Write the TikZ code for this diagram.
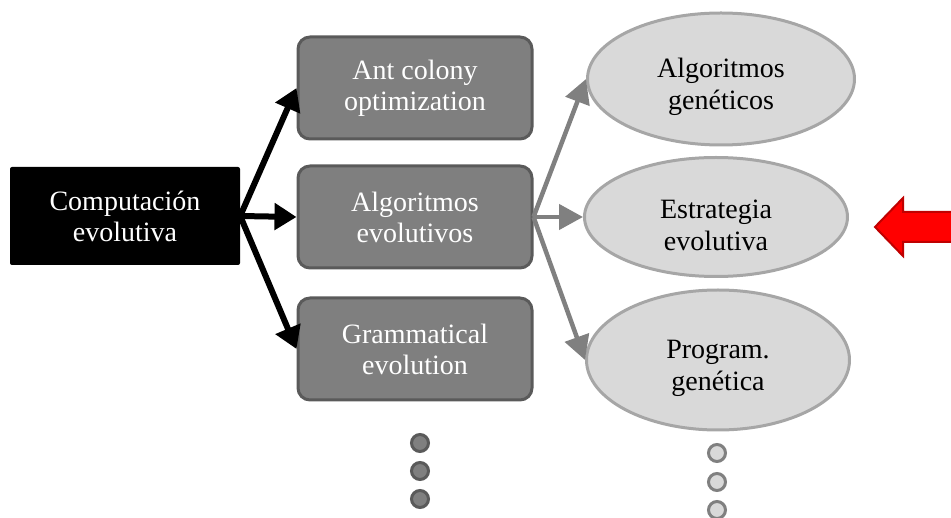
\documentclass[tikz,border=0pt]{standalone}
\usepackage{fontspec}
\setmainfont{Liberation Serif}
\usetikzlibrary{arrows.meta,shapes.geometric}

\definecolor{boxgray}{HTML}{7F7F7F}
\definecolor{boxedge}{HTML}{5A5A5A}
\definecolor{ellfill}{HTML}{D9D9D9}
\definecolor{elledge}{HTML}{A6A6A6}
\definecolor{linkgray}{HTML}{808080}
\definecolor{arrowred}{HTML}{FF0000}
\definecolor{arrowedge}{HTML}{C00000}

% tall strut on a first line: sets the text of the ellipses a little lower
\newcommand{\ellstrut}{\rule{0pt}{36pt}}

\tikzset{
  txt/.style={font=\fontsize{28}{31}\selectfont, align=center, inner sep=0pt},
  rootbox/.style={txt, rectangle, rounded corners=2pt, fill=black, text=white,
    minimum width=230pt, minimum height=98pt},
  methodbox/.style={txt, rectangle, rounded corners=12pt, fill=boxgray, draw=boxedge,
    line width=3pt, text=white, minimum width=234pt, minimum height=102pt},
  variant/.style={txt, font=\fontsize{28}{32}\selectfont, ellipse, fill=ellfill, draw=elledge,
    line width=3pt, text=black},
  bigarrow/.style={line width=6pt, -{Triangle[length=22pt,width=26pt]}},
  smallarrow/.style={draw=linkgray, line width=4.5pt, -{Triangle[length=24pt,width=25pt]}, color=linkgray},
  darkdot/.style={circle, fill=boxgray, draw=boxedge, line width=3pt, minimum size=17pt, inner sep=0pt},
  lightdot/.style={circle, fill=ellfill, draw=linkgray, line width=3pt, minimum size=17pt, inner sep=0pt}
}

\begin{document}
\begin{tikzpicture}[x=1pt,y=-1pt]
\useasboundingbox (0,0) rectangle (951,518);

% root
\node[rootbox] (comp) at (125,216) {Computación\\evolutiva};

% second level
\node[methodbox] (ant)  at (415,88)  {Ant colony\\optimization};
\node[methodbox] (alg)  at (415,217) {Algoritmos\\evolutivos};
\node[methodbox] (gram) at (415,349) {Grammatical\\evolution};

% third level
\node[variant, minimum width=267pt, minimum height=132pt] (ag) at (721,79)  {\ellstrut Algoritmos\\genéticos};
\node[variant, minimum width=263pt, minimum height=119pt] (ee) at (716,217) {\ellstrut Estrategia\\evolutiva};
\node[variant, minimum width=263pt, minimum height=140pt] (pg) at (718,360) {\ellstrut Program.\\genética};

% connectors
\coordinate (fork1) at (comp.east);
\draw[bigarrow] (fork1) -- (ant.west);
\draw[bigarrow] (fork1) -- (alg.west);
\draw[bigarrow] (fork1) -- (gram.west);

\coordinate (fork2) at (alg.east);
\draw[smallarrow] (fork2) -- (ag.west);
\draw[smallarrow] (fork2) -- (ee.west);
\draw[smallarrow] (fork2) -- (pg.west);

% continuation dots
\node[darkdot] (d1) at (420,443) {};
\node[darkdot] (d2) at (420,471) {};
\node[darkdot] (d3) at (420,499) {};
\node[lightdot] (l1) at (717,453) {};
\node[lightdot] (l2) at (717,482) {};
\node[lightdot] (l3) at (717,510) {};

% red pointer
\draw[fill=arrowred, draw=arrowedge, line width=2pt, line join=miter]
  (875,227) -- (903,198) -- (903,212) -- (960,212) -- (960,242) -- (903,242) -- (903,256) -- cycle;
\end{tikzpicture}
\end{document}
